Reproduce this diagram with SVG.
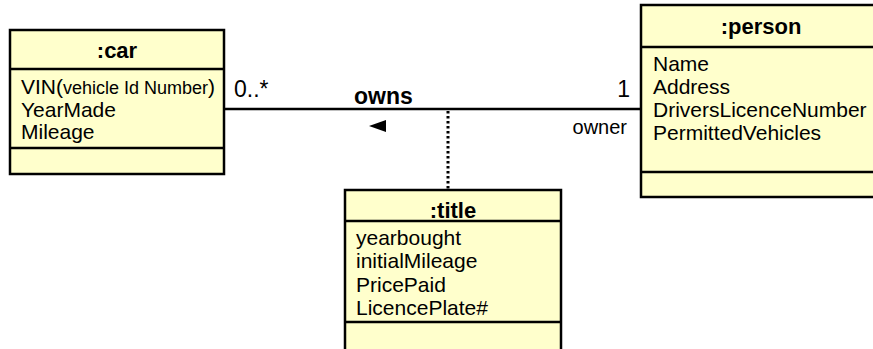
<svg xmlns="http://www.w3.org/2000/svg" width="873" height="349" viewBox="0 0 873 349">
  <style>
    .box { fill: #ffffcc; stroke: #000; stroke-width: 2.5; }
    .div { stroke: #000; stroke-width: 2.5; }
    .name { font-family: "Liberation Sans", Arial, sans-serif; font-size: 22px; font-weight: bold; text-anchor: middle; fill: #000; }
    .attr { font-family: "Liberation Sans", Arial, sans-serif; font-size: 21px; fill: #000; }
    .small { font-size: 18px; }
    .lbl { font-family: "Liberation Sans", Arial, sans-serif; font-size: 23px; fill: #000; }
    .role { font-family: "Liberation Sans", Arial, sans-serif; font-size: 20px; fill: #000; text-anchor: end; }
    .assoc { font-family: "Liberation Sans", Arial, sans-serif; font-size: 23px; font-weight: bold; fill: #000; }
  </style>
  <rect width="873" height="349" fill="#fff"/>

  <!-- association line, link to the association class, direction arrow and labels -->
  <g id="connectors">
    <line x1="224" y1="109" x2="641" y2="109" stroke="#000" stroke-width="2.5"/>
    <line x1="448" y1="111" x2="448" y2="190" stroke="#000" stroke-width="3" stroke-dasharray="2.5,2.5"/>
    <polygon points="369,126 386,120 386,132" fill="#000"/>
    <text class="assoc" x="354" y="104">owns</text>
    <text class="lbl" x="234" y="97">0..*</text>
    <text class="lbl" x="630" y="97" text-anchor="end">1</text>
    <text class="role" x="627" y="134">owner</text>
  </g>

  <!-- car class -->
  <g id="car">
    <rect class="box" x="10" y="30" width="214" height="144"/>
    <line class="div" x1="10" y1="69" x2="224" y2="69"/>
    <line class="div" x1="10" y1="148" x2="224" y2="148"/>
    <text class="name" x="117" y="58">:car</text>
    <text class="attr" x="21" y="94">VIN(<tspan class="small">vehicle Id Number</tspan>)</text>
    <text class="attr" x="21" y="116.7">YearMade</text>
    <text class="attr" x="21" y="139.4">Mileage</text>
  </g>

  <!-- person class (runs past the right edge) -->
  <g id="person">
    <rect class="box" x="641" y="5" width="242" height="192"/>
    <line class="div" x1="641" y1="47" x2="883" y2="47"/>
    <line class="div" x1="641" y1="172" x2="883" y2="172"/>
    <text class="name" x="761" y="34">:person</text>
    <text class="attr" x="653" y="71">Name</text>
    <text class="attr" x="653" y="94">Address</text>
    <text class="attr" x="653" y="117">DriversLicenceNumber</text>
    <text class="attr" x="653" y="140">PermittedVehicles</text>
  </g>

  <!-- title association class (runs past the bottom edge) -->
  <g id="title">
    <rect class="box" x="345" y="190" width="216" height="180"/>
    <line class="div" x1="345" y1="221" x2="561" y2="221"/>
    <line class="div" x1="345" y1="322" x2="561" y2="322"/>
    <text class="name" x="453" y="218">:title</text>
    <text class="attr" x="356" y="245">yearbought</text>
    <text class="attr" x="356" y="268">initialMileage</text>
    <text class="attr" x="356" y="291.5">PricePaid</text>
    <text class="attr" x="356" y="315">LicencePlate#</text>
  </g>
</svg>
